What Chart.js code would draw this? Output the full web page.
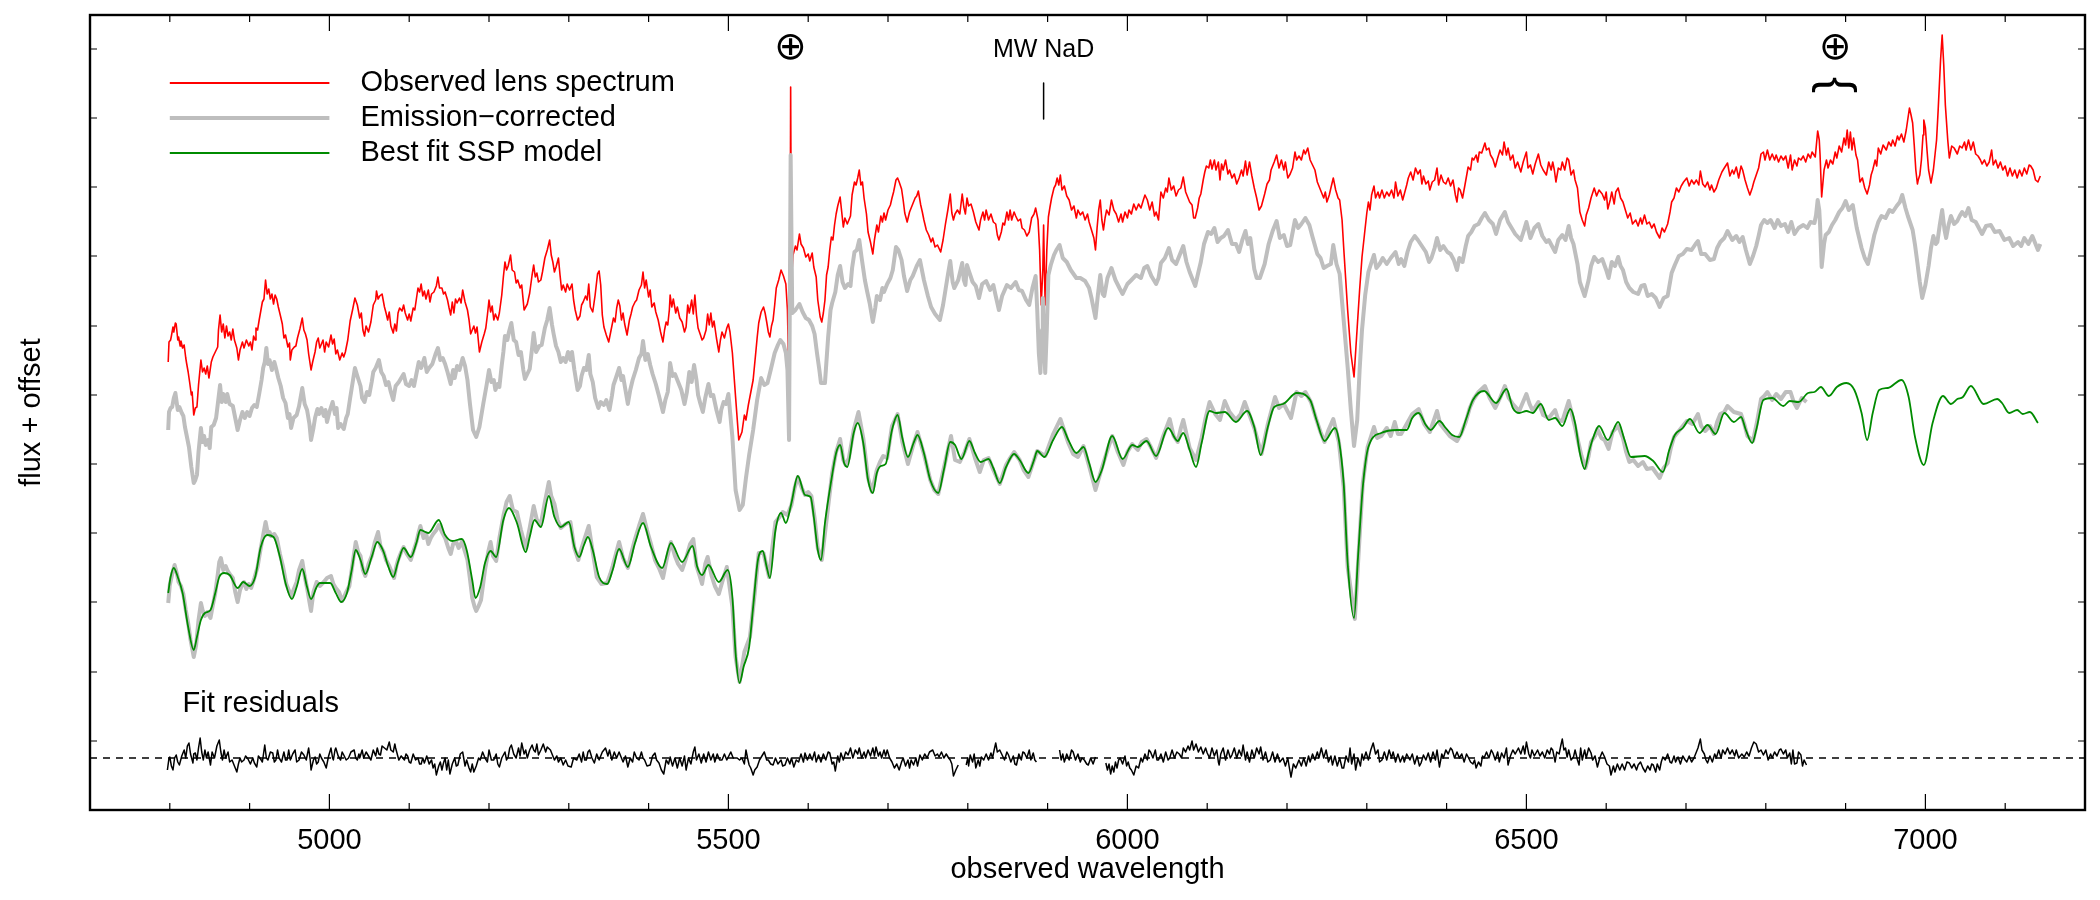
<!DOCTYPE html>
<html>
<head>
<meta charset="utf-8">
<script src="https://cdn.jsdelivr.net/npm/chart.js@4/dist/chart.umd.js"></script>
<style>body{margin:0;background:#fff}canvas{display:block}</style>
</head>
<body>
<canvas id="myChart" width="2100" height="900"></canvas>
<script>
// [wavelength, flux + offset], flux in arbitrary units
const observed = [[4798,448],[4799,468],[4801,470],[4802,474],[4804,483],[4805,478],[4807,487],[4808,486],[4810,470],[4811,473],[4813,464],[4814,469],[4816,462],[4818,465],[4820,452],[4821,447],[4823,438],[4825,427],[4827,415],[4828,418],[4830,395],[4832,402],[4834,403],[4836,425],[4839,450],[4841,438],[4843,442],[4845,436],[4847,444],[4849,432],[4850,437],[4852,448],[4854,453],[4857,458],[4860,463],[4861,480],[4863,495],[4865,478],[4867,486],[4869,472],[4871,484],[4873,474],[4875,478],[4877,470],[4879,481],[4881,470],[4884,462],[4886,450],[4888,460],[4891,468],[4893,462],[4896,470],[4899,464],[4901,468],[4903,460],[4905,474],[4907,470],[4908,482],[4910,480],[4912,490],[4914,499],[4916,508],[4918,511],[4920,530],[4922,516],[4924,521],[4926,511],[4928,516],[4930,506],[4932,515],[4934,511],[4936,503],[4939,493],[4941,486],[4943,472],[4945,475],[4948,463],[4950,467],[4951,450],[4953,460],[4956,463],[4958,464],[4960,472],[4963,481],[4966,492],[4968,480],[4970,476],[4972,470],[4974,456],[4977,440],[4979,448],[4982,458],[4984,468],[4986,472],[4988,462],[4990,466],[4992,470],[4994,458],[4996,468],[4999,463],[5002,475],[5004,466],[5006,471],[5008,456],[5010,460],[5013,450],[5016,457],[5018,453],[5020,458],[5023,470],[5026,489],[5029,500],[5032,512],[5035,505],[5038,492],[5040,497],[5042,480],[5044,474],[5046,484],[5049,478],[5052,488],[5055,505],[5058,510],[5059,519],[5061,511],[5063,514],[5066,516],[5069,503],[5071,497],[5073,490],[5075,498],[5077,484],[5080,477],[5082,486],[5084,479],[5086,497],[5088,502],[5091,499],[5093,505],[5095,497],[5098,490],[5100,496],[5102,489],[5105,502],[5107,500],[5109,511],[5111,522],[5113,518],[5115,526],[5117,514],[5119,519],[5121,511],[5124,520],[5126,508],[5128,516],[5131,518],[5134,524],[5136,533],[5138,522],[5141,522],[5143,516],[5145,518],[5148,510],[5150,502],[5152,495],[5154,508],[5156,497],[5158,511],[5160,507],[5163,512],[5165,507],[5167,520],[5170,508],[5173,500],[5175,490],[5177,476],[5179,480],[5181,484],[5183,477],[5185,483],[5188,458],[5191,468],[5194,476],[5196,482],[5198,495],[5200,510],[5202,498],[5204,504],[5206,490],[5208,496],[5211,490],[5213,497],[5216,515],[5218,533],[5220,548],[5222,540],[5224,544],[5227,555],[5229,540],[5232,538],[5234,527],[5236,530],[5239,522],[5241,525],[5244,500],[5246,503],[5248,506],[5251,517],[5254,535],[5256,545],[5258,533],[5260,537],[5262,528],[5265,530],[5267,538],[5270,552],[5273,560],[5276,570],[5278,555],[5280,548],[5282,538],[5284,543],[5287,552],[5289,535],[5291,520],[5293,525],[5296,518],[5298,526],[5301,520],[5304,526],[5306,510],[5308,500],[5311,490],[5314,494],[5316,505],[5318,508],[5321,514],[5323,510],[5325,526],[5327,503],[5330,498],[5333,515],[5336,536],[5338,539],[5340,525],[5342,495],[5344,483],[5347,475],[5350,468],[5353,480],[5356,492],[5358,488],[5360,502],[5362,510],[5364,504],[5366,490],[5368,497],[5370,486],[5373,475],[5376,490],[5378,496],[5380,503],[5383,508],[5385,510],[5388,520],[5391,525],[5393,538],[5395,522],[5397,530],[5400,513],[5402,520],[5404,503],[5407,507],[5409,498],[5412,490],[5415,478],[5418,468],[5420,480],[5422,488],[5424,485],[5426,500],[5427,515],[5429,503],[5431,511],[5434,497],[5436,503],[5439,492],[5442,488],[5445,478],[5447,483],[5449,505],[5451,497],[5454,510],[5456,496],[5458,515],[5460,495],[5462,482],[5465,475],[5467,470],[5469,472],[5472,480],[5474,496],[5476,485],[5478,497],[5480,483],[5482,489],[5485,472],[5488,458],[5490,470],[5492,478],[5495,472],[5498,482],[5500,486],[5502,478],[5505,457],[5509,413],[5513,370],[5517,378],[5520,395],[5522,390],[5525,405],[5531,430],[5534,455],[5536,472],[5538,487],[5541,498],[5544,503],[5546,497],[5548,488],[5550,478],[5552,473],[5554,484],[5556,490],[5558,505],[5560,522],[5563,530],[5566,540],[5569,534],[5572,526],[5574,500],[5575,460],[5577,440],[5578,723],[5579,530],[5581,555],[5584,564],[5586,560],[5589,576],[5591,566],[5594,562],[5597,553],[5600,556],[5602,549],[5605,557],[5607,543],[5610,533],[5612,510],[5615,493],[5617,488],[5619,497],[5621,510],[5623,535],[5625,543],[5627,560],[5629,573],[5631,570],[5633,585],[5635,596],[5637,604],[5640,613],[5642,598],[5644,583],[5646,592],[5649,586],[5651,590],[5653,594],[5655,615],[5658,628],[5660,625],[5662,632],[5664,640],[5666,625],[5668,628],[5670,612],[5673,596],[5675,578],[5678,568],[5681,556],[5683,570],[5686,585],[5688,578],[5691,594],[5693,588],[5695,597],[5697,590],[5700,600],[5703,605],[5705,612],[5707,618],[5710,630],[5712,632],[5714,628],[5717,621],[5719,610],[5721,597],[5724,588],[5727,598],[5729,602],[5731,606],[5734,612],[5736,614],[5738,619],[5741,605],[5743,598],[5745,590],[5748,580],[5751,575],[5754,568],[5756,572],[5759,563],[5762,565],[5766,558],[5769,570],[5772,586],[5775,600],[5778,616],[5780,597],[5782,590],[5784,596],[5787,600],[5790,596],[5793,616],[5795,603],[5797,596],[5799,612],[5801,604],[5804,606],[5807,598],[5810,588],[5814,580],[5816,590],[5819,598],[5821,590],[5823,600],[5826,590],[5829,596],[5832,588],[5835,586],[5837,575],[5839,570],[5842,578],[5844,587],[5846,585],[5849,598],[5851,590],[5853,600],[5855,590],[5858,598],[5860,594],[5863,589],[5866,591],[5868,582],[5871,580],[5874,574],[5877,578],[5880,592],[5883,596],[5885,602],[5888,590],[5890,560],[5892,505],[5894,540],[5895,585],[5896,540],[5897,505],[5899,560],[5901,593],[5903,603],[5905,612],[5908,622],[5910,625],[5912,632],[5914,625],[5916,635],[5918,620],[5921,624],[5924,614],[5927,610],[5930,600],[5933,604],[5936,592],[5938,600],[5941,595],[5944,598],[5947,590],[5950,596],[5952,588],[5955,580],[5958,572],[5960,560],[5962,582],[5964,600],[5966,610],[5968,590],[5970,580],[5972,592],[5974,600],[5977,595],[5980,610],[5983,600],[5986,596],[5989,588],[5992,596],[5994,588],[5997,598],[6000,592],[6002,600],[6005,596],[6008,606],[6011,600],[6014,606],[6017,602],[6020,610],[6022,615],[6025,610],[6028,600],[6031,608],[6034,594],[6036,598],[6039,590],[6042,618],[6045,612],[6048,622],[6050,618],[6052,632],[6055,620],[6058,624],[6061,614],[6064,620],[6067,622],[6070,633],[6073,618],[6076,612],[6078,608],[6081,605],[6083,592],[6085,592],[6088,602],[6090,612],[6092,616],[6095,630],[6097,638],[6099,644],[6102,642],[6104,650],[6106,641],[6109,650],[6111,640],[6114,648],[6116,630],[6118,646],[6120,640],[6123,650],[6126,636],[6128,640],[6131,632],[6134,636],[6137,626],[6140,632],[6143,640],[6145,634],[6148,649],[6150,635],[6153,648],[6156,634],[6159,622],[6162,612],[6165,600],[6168,604],[6172,616],[6175,626],[6178,630],[6180,640],[6182,644],[6184,648],[6187,655],[6190,642],[6193,650],[6196,640],[6198,648],[6201,632],[6204,636],[6207,642],[6210,658],[6212,650],[6215,654],[6218,650],[6221,660],[6223,656],[6226,662],[6229,650],[6232,645],[6235,640],[6238,628],[6241,622],[6243,618],[6246,612],[6248,618],[6250,608],[6253,615],[6255,622],[6258,632],[6261,620],[6264,612],[6266,610],[6269,590],[6271,563],[6276,500],[6280,457],[6284,433],[6288,483],[6291,520],[6294,553],[6297,575],[6300,597],[6302,608],[6304,600],[6306,615],[6309,624],[6311,612],[6314,618],[6316,612],[6319,620],[6322,612],[6325,618],[6328,614],[6331,620],[6334,612],[6336,628],[6339,614],[6342,620],[6345,610],[6347,616],[6350,625],[6352,632],[6355,638],[6358,630],[6361,642],[6364,636],[6367,640],[6369,626],[6371,634],[6374,626],[6377,629],[6379,620],[6382,628],[6385,630],[6388,642],[6390,625],[6393,635],[6396,628],[6399,626],[6402,632],[6405,624],[6408,630],[6411,615],[6413,608],[6415,622],[6417,620],[6420,612],[6423,625],[6427,643],[6430,640],[6432,652],[6434,650],[6437,655],[6439,648],[6441,658],[6444,657],[6448,667],[6450,660],[6453,662],[6455,655],[6458,651],[6461,643],[6464,652],[6467,660],[6470,655],[6472,668],[6475,655],[6477,662],[6480,650],[6483,655],[6486,642],[6489,648],[6493,638],[6496,648],[6500,658],[6502,642],[6505,645],[6508,636],[6511,646],[6515,656],[6518,645],[6521,640],[6525,635],[6528,648],[6531,640],[6533,648],[6535,640],[6537,628],[6540,642],[6543,640],[6545,648],[6548,640],[6551,652],[6553,650],[6556,635],[6559,640],[6561,630],[6564,622],[6567,598],[6570,590],[6573,584],[6575,595],[6578,602],[6581,612],[6585,622],[6588,614],[6591,620],[6595,616],[6598,610],[6600,618],[6602,601],[6605,610],[6607,618],[6610,606],[6612,618],[6615,622],[6618,612],[6621,608],[6624,600],[6627,592],[6630,597],[6633,586],[6637,590],[6640,584],[6643,592],[6645,586],[6648,595],[6651,586],[6654,588],[6657,582],[6660,586],[6663,578],[6667,572],[6670,582],[6673,578],[6677,586],[6680,598],[6682,608],[6685,612],[6688,622],[6691,618],[6694,624],[6697,628],[6701,632],[6704,624],[6707,630],[6710,626],[6713,630],[6716,625],[6718,639],[6721,626],[6724,623],[6727,628],[6730,620],[6732,625],[6735,618],[6738,622],[6741,630],[6745,638],[6748,642],[6752,647],[6755,634],[6758,640],[6760,636],[6763,643],[6766,632],[6769,644],[6771,640],[6774,630],[6777,622],[6780,615],[6783,622],[6785,628],[6788,635],[6791,642],[6794,656],[6797,658],[6799,650],[6802,660],[6805,650],[6808,656],[6811,650],[6813,655],[6816,648],[6819,654],[6822,650],[6825,654],[6828,642],[6831,655],[6833,640],[6836,650],[6839,644],[6841,652],[6844,650],[6847,654],[6850,648],[6853,656],[6856,652],[6858,658],[6862,653],[6865,679],[6867,670],[6868,655],[6870,613],[6873,640],[6876,650],[6878,642],[6881,650],[6884,646],[6887,658],[6889,652],[6892,664],[6895,658],[6898,672],[6900,665],[6902,680],[6904,662],[6906,678],[6908,660],[6910,672],[6913,655],[6915,650],[6918,628],[6921,632],[6924,622],[6927,616],[6930,625],[6932,635],[6934,640],[6937,650],[6939,644],[6941,662],[6944,656],[6947,665],[6951,660],[6954,668],[6957,664],[6959,670],[6962,664],[6965,674],[6967,670],[6970,676],[6973,668],[6976,680],[6980,702],[6982,695],[6984,687],[6986,665],[6988,640],[6990,626],[6991,630],[6993,635],[6995,650],[6997,675],[6998,690],[7000,682],[7002,660],[7004,640],[7007,627],[7010,640],[7012,655],[7014,670],[7016,700],[7019,750],[7021,775],[7023,745],[7025,705],[7028,670],[7030,652],[7033,664],[7036,662],[7040,656],[7043,664],[7046,662],[7049,668],[7051,660],[7054,670],[7057,660],[7060,668],[7063,656],[7066,654],[7069,650],[7071,646],[7074,650],[7077,644],[7080,648],[7083,660],[7085,645],[7088,650],[7091,642],[7094,648],[7097,640],[7100,644],[7103,634],[7106,642],[7109,634],[7112,640],[7115,632],[7118,640],[7121,634],[7124,642],[7127,636],[7130,645],[7132,644],[7135,640],[7138,630],[7141,628],[7144,634]];

const corrected = [[4798,380],[4799,398],[4801,402],[4803,403],[4805,412],[4807,417],[4810,400],[4812,403],[4815,397],[4817,394],[4819,383],[4821,375],[4824,363],[4827,343],[4830,327],[4832,330],[4834,335],[4836,358],[4839,382],[4841,368],[4843,374],[4845,365],[4848,370],[4850,362],[4852,383],[4855,385],[4858,392],[4860,405],[4863,425],[4865,408],[4867,416],[4870,408],[4872,416],[4875,406],[4879,404],[4882,392],[4885,380],[4888,390],[4891,398],[4894,392],[4897,398],[4900,394],[4903,402],[4906,405],[4909,403],[4912,416],[4915,430],[4917,442],[4919,448],[4921,462],[4923,446],[4925,450],[4928,440],[4931,448],[4933,442],[4936,432],[4939,424],[4942,412],[4945,407],[4948,392],[4950,396],[4952,382],[4955,392],[4959,395],[4962,404],[4966,422],[4969,406],[4972,400],[4975,386],[4977,370],[4980,382],[4982,392],[4985,401],[4987,396],[4990,402],[4993,394],[4995,400],[4997,388],[5000,398],[5004,408],[5007,396],[5009,402],[5011,382],[5014,386],[5018,381],[5021,392],[5023,396],[5026,412],[5028,422],[5030,432],[5032,442],[5035,434],[5039,424],[5041,412],[5044,408],[5047,418],[5050,415],[5053,428],[5055,438],[5058,442],[5062,450],[5065,438],[5068,434],[5071,425],[5074,428],[5077,418],[5080,410],[5083,424],[5087,428],[5090,432],[5093,436],[5096,426],[5100,424],[5103,430],[5106,424],[5109,436],[5112,448],[5115,442],[5119,452],[5122,438],[5125,442],[5129,446],[5133,456],[5136,462],[5139,450],[5142,452],[5145,446],[5148,438],[5150,432],[5152,426],[5155,440],[5157,432],[5160,444],[5163,440],[5167,452],[5170,444],[5173,430],[5176,407],[5180,380],[5184,373],[5188,383],[5193,407],[5197,425],[5200,440],[5203,428],[5206,430],[5208,420],[5211,426],[5213,423],[5216,445],[5218,458],[5220,474],[5223,470],[5225,478],[5228,487],[5231,470],[5234,468],[5237,455],[5240,458],[5243,440],[5245,431],[5248,436],[5251,441],[5254,462],[5256,477],[5259,458],[5263,464],[5266,465],[5270,482],[5273,490],[5276,502],[5279,485],[5281,476],[5284,464],[5287,458],[5290,448],[5293,452],[5296,448],[5299,458],[5302,450],[5304,458],[5307,440],[5311,420],[5314,424],[5316,434],[5319,442],[5322,440],[5325,455],[5327,436],[5330,428],[5333,412],[5337,402],[5340,408],[5344,405],[5347,410],[5351,400],[5354,414],[5356,425],[5359,432],[5363,442],[5366,430],[5368,434],[5371,420],[5374,406],[5377,420],[5380,430],[5384,440],[5388,452],[5391,456],[5393,469],[5396,450],[5399,456],[5402,445],[5405,436],[5409,426],[5413,414],[5418,398],[5421,410],[5424,418],[5426,436],[5427,447],[5430,434],[5433,436],[5437,428],[5441,420],[5445,406],[5448,418],[5451,438],[5454,428],[5457,445],[5460,430],[5462,415],[5465,406],[5468,398],[5471,412],[5475,426],[5478,414],[5481,415],[5485,400],[5489,388],[5491,400],[5494,408],[5497,406],[5500,416],[5505,373],[5509,320],[5514,300],[5518,305],[5522,332],[5526,355],[5531,380],[5536,410],[5541,432],[5545,425],[5549,427],[5553,440],[5558,457],[5562,465],[5565,470],[5569,466],[5572,457],[5574,440],[5576,370],[5578,655],[5580,497],[5584,500],[5589,506],[5593,498],[5597,492],[5601,490],[5605,484],[5608,476],[5611,457],[5614,440],[5616,427],[5621,427],[5625,473],[5628,500],[5630,507],[5634,518],[5637,535],[5640,544],[5643,528],[5646,522],[5650,526],[5653,524],[5655,542],[5658,558],[5661,560],[5664,570],[5667,552],[5671,530],[5674,518],[5677,507],[5681,488],[5684,502],[5686,514],[5690,510],[5693,522],[5695,518],[5699,526],[5703,532],[5706,540],[5710,563],[5713,560],[5717,550],[5720,534],[5724,519],[5728,530],[5731,534],[5736,544],[5740,550],[5743,538],[5745,530],[5750,514],[5754,503],[5759,496],[5765,490],[5769,505],[5772,520],[5775,535],[5778,549],[5781,528],[5783,522],[5788,530],[5793,547],[5795,530],[5797,525],[5799,545],[5801,540],[5806,528],[5810,524],[5814,512],[5818,526],[5823,529],[5828,520],[5832,525],[5835,514],[5839,500],[5843,514],[5849,525],[5854,522],[5860,528],[5864,520],[5868,519],[5873,510],[5877,505],[5881,522],[5885,534],[5887,500],[5889,457],[5891,437],[5893,480],[5894,512],[5895,480],[5897,437],[5899,480],[5901,535],[5904,545],[5908,555],[5911,560],[5915,565],[5919,552],[5924,548],[5929,540],[5936,532],[5941,532],[5947,529],[5952,522],[5955,512],[5960,492],[5963,515],[5966,535],[5969,516],[5971,514],[5975,532],[5980,542],[5985,530],[5990,522],[5994,516],[6000,526],[6005,530],[6011,535],[6017,532],[6021,542],[6025,544],[6030,534],[6036,526],[6039,532],[6042,547],[6047,552],[6052,562],[6056,550],[6061,546],[6066,556],[6070,564],[6074,548],[6078,538],[6082,530],[6085,524],[6089,538],[6092,548],[6096,566],[6101,578],[6105,576],[6109,582],[6113,568],[6117,572],[6121,574],[6126,580],[6131,566],[6136,566],[6140,558],[6144,570],[6148,579],[6151,566],[6154,572],[6159,541],[6162,532],[6166,532],[6172,546],[6177,566],[6182,579],[6187,589],[6191,572],[6196,575],[6200,564],[6204,565],[6210,590],[6214,582],[6218,586],[6223,592],[6228,585],[6232,573],[6238,556],[6242,552],[6246,542],[6250,544],[6255,546],[6258,565],[6262,546],[6266,536],[6271,490],[6276,443],[6280,400],[6284,364],[6288,390],[6291,440],[6294,480],[6298,515],[6302,538],[6306,548],[6309,555],[6312,542],[6316,546],[6320,552],[6325,546],[6330,552],[6336,558],[6340,546],[6343,551],[6347,544],[6351,558],[6355,568],[6360,574],[6364,570],[6369,564],[6374,558],[6378,548],[6381,552],[6385,562],[6388,572],[6392,560],[6396,564],[6401,558],[6405,556],[6409,550],[6413,540],[6416,552],[6420,548],[6424,564],[6427,574],[6431,578],[6435,584],[6440,586],[6444,592],[6448,597],[6453,590],[6458,586],[6462,576],[6467,590],[6473,598],[6477,588],[6480,584],[6486,576],[6493,570],[6497,580],[6500,588],[6505,572],[6510,582],[6515,586],[6520,574],[6525,568],[6528,570],[6532,564],[6536,558],[6540,570],[6545,575],[6549,570],[6553,584],[6556,572],[6559,566],[6564,546],[6567,528],[6573,514],[6578,530],[6581,544],[6585,553],[6590,548],[6595,551],[6600,540],[6603,532],[6607,548],[6611,544],[6615,553],[6618,544],[6621,540],[6625,528],[6629,522],[6634,518],[6640,516],[6644,524],[6648,525],[6652,514],[6657,516],[6662,512],[6667,503],[6672,512],[6677,514],[6682,537],[6686,545],[6691,554],[6696,556],[6701,561],[6707,560],[6712,566],[6715,569],[6719,556],[6724,556],[6730,550],[6735,551],[6739,562],[6743,568],[6748,572],[6752,579],[6758,570],[6763,574],[6767,568],[6771,573],[6775,560],[6780,546],[6784,554],[6788,564],[6791,574],[6794,585],[6798,590],[6802,587],[6806,590],[6811,582],[6815,590],[6819,584],[6824,586],[6828,578],[6832,588],[6836,576],[6841,582],[6847,585],[6852,582],[6856,588],[6861,587],[6863,595],[6865,610],[6867,600],[6868,585],[6870,543],[6873,566],[6875,575],[6879,578],[6883,585],[6887,590],[6892,598],[6896,602],[6900,609],[6904,600],[6909,605],[6914,582],[6920,562],[6924,552],[6928,546],[6932,560],[6936,575],[6941,588],[6945,594],[6950,592],[6955,600],[6959,598],[6964,604],[6968,608],[6971,615],[6975,602],[6978,594],[6984,580],[6987,565],[6990,547],[6993,528],[6996,512],[7000,525],[7004,544],[7007,562],[7010,574],[7013,566],[7015,568],[7018,585],[7021,600],[7024,580],[7026,572],[7029,585],[7032,594],[7036,586],[7040,589],[7043,594],[7046,598],[7050,594],[7054,602],[7058,590],[7063,588],[7067,582],[7071,576],[7076,584],[7082,585],[7087,578],[7093,579],[7099,570],[7105,572],[7110,564],[7116,568],[7120,564],[7124,572],[7129,566],[7134,574],[7138,566],[7141,560],[7144,566]];

const correctedLow = [[4798,207],[4800,225],[4803,236],[4806,245],[4809,236],[4811,228],[4814,224],[4817,216],[4820,200],[4823,187],[4826,170],[4830,153],[4833,165],[4836,190],[4839,207],[4841,200],[4844,194],[4847,198],[4851,192],[4854,205],[4857,217],[4860,235],[4862,248],[4864,252],[4867,240],[4870,244],[4872,240],[4875,236],[4879,232],[4882,218],[4885,208],[4888,220],[4890,224],[4893,228],[4896,221],[4899,226],[4902,222],[4906,232],[4910,243],[4914,262],[4917,275],[4920,288],[4923,276],[4925,278],[4927,274],[4931,276],[4934,272],[4938,256],[4942,243],[4946,226],[4950,218],[4952,214],[4955,220],[4959,228],[4962,240],[4966,249],[4969,234],[4972,222],[4975,208],[4977,199],[4980,218],[4984,228],[4988,224],[4993,228],[4997,232],[5002,234],[5005,226],[5008,222],[5012,218],[5016,209],[5020,216],[5025,224],[5029,246],[5033,268],[5036,258],[5039,254],[5042,240],[5045,234],[5049,246],[5053,254],[5057,268],[5061,278],[5064,264],[5068,258],[5071,250],[5075,244],[5078,238],[5081,232],[5084,244],[5086,250],[5090,258],[5093,263],[5097,256],[5102,250],[5105,258],[5109,268],[5112,278],[5114,284],[5118,272],[5121,277],[5124,266],[5127,272],[5130,276],[5134,280],[5137,285],[5141,278],[5145,272],[5149,262],[5152,256],[5155,266],[5159,268],[5162,262],[5166,268],[5170,258],[5173,250],[5176,232],[5179,212],[5182,203],[5184,199],[5187,204],[5190,210],[5193,228],[5195,240],[5199,258],[5202,268],[5205,254],[5209,249],[5213,272],[5218,294],[5222,308],[5226,314],[5230,300],[5235,298],[5240,280],[5246,262],[5251,282],[5256,304],[5260,290],[5265,286],[5270,308],[5275,328],[5278,314],[5282,306],[5286,290],[5290,282],[5296,286],[5302,288],[5307,262],[5312,250],[5316,262],[5320,272],[5325,284],[5330,258],[5335,233],[5341,226],[5348,227],[5352,236],[5355,244],[5359,256],[5363,268],[5368,252],[5374,242],[5378,256],[5383,271],[5388,284],[5393,296],[5398,280],[5403,266],[5408,250],[5413,242],[5418,232],[5423,252],[5428,268],[5433,254],[5437,246],[5442,240],[5447,252],[5452,266],[5456,271],[5460,244],[5464,234],[5467,226],[5471,246],[5474,253],[5479,234],[5483,224],[5488,216],[5493,230],[5498,243],[5505,203],[5509,153],[5514,128],[5520,158],[5527,173],[5533,217],[5538,257],[5544,257],[5551,233],[5555,262],[5559,288],[5564,293],[5568,298],[5574,295],[5579,305],[5583,322],[5587,333],[5592,322],[5596,315],[5600,318],[5604,314],[5608,292],[5612,262],[5617,250],[5623,290],[5630,337],[5635,358],[5640,371],[5644,350],[5647,345],[5651,352],[5657,380],[5663,398],[5669,372],[5675,332],[5680,318],[5686,340],[5690,348],[5694,354],[5699,352],[5705,384],[5712,396],[5718,368],[5725,346],[5732,366],[5737,378],[5745,356],[5753,330],[5758,320],[5763,316],[5770,342],[5779,374],[5784,350],[5790,348],[5796,358],[5802,371],[5809,352],[5815,338],[5820,350],[5826,352],[5832,340],[5840,326],[5848,345],[5853,352],[5858,358],[5865,350],[5870,340],[5876,333],[5883,350],[5887,359],[5897,354],[5907,376],[5916,391],[5926,367],[5932,356],[5938,353],[5945,364],[5952,344],[5960,320],[5968,342],[5975,360],[5981,374],[5988,358],[5995,345],[6000,358],[6006,366],[6013,360],[6018,368],[6024,371],[6030,362],[6036,352],[6044,372],[6053,391],[6058,374],[6063,368],[6067,382],[6070,390],[6078,362],[6086,350],[6093,372],[6098,392],[6103,408],[6110,396],[6116,390],[6122,409],[6128,398],[6136,390],[6142,396],[6147,408],[6153,395],[6159,382],[6168,356],[6176,386],[6185,413],[6190,402],[6196,406],[6205,392],[6212,418],[6218,414],[6223,418],[6230,408],[6237,390],[6242,378],[6247,368],[6252,380],[6258,391],[6265,368],[6271,323],[6276,243],[6285,191],[6290,260],[6295,327],[6301,363],[6309,383],[6313,372],[6318,374],[6325,382],[6330,374],[6335,388],[6339,376],[6343,376],[6350,386],[6357,396],[6365,401],[6372,386],[6379,378],[6388,399],[6392,386],[6396,382],[6404,374],[6413,369],[6418,376],[6424,388],[6429,402],[6434,411],[6440,418],[6448,424],[6454,412],[6461,402],[6467,412],[6473,424],[6478,412],[6483,406],[6491,399],[6500,416],[6504,406],[6508,399],[6515,408],[6521,395],[6528,392],[6536,400],[6540,390],[6545,389],[6553,409],[6557,396],[6561,383],[6565,368],[6569,354],[6574,342],[6578,354],[6581,368],[6586,374],[6589,381],[6594,372],[6598,370],[6603,361],[6608,378],[6615,384],[6621,372],[6625,358],[6629,348],[6634,350],[6640,344],[6646,348],[6651,341],[6658,342],[6667,332],[6672,342],[6677,347],[6681,362],[6685,373],[6692,380],[6701,389],[6708,386],[6715,396],[6719,384],[6724,379],[6730,384],[6735,376],[6739,388],[6743,396],[6748,398],[6752,404],[6760,398],[6769,396],[6773,386],[6777,374],[6784,369],[6789,388],[6794,411],[6798,414],[6802,418],[6808,410],[6813,416],[6819,411],[6825,418],[6831,418],[6835,408],[6839,402],[6845,412],[6851,408]];

const model = [[4798,217],[4801,233],[4805,242],[4810,233],[4816,217],[4823,183],[4830,160],[4834,173],[4839,190],[4844,197],[4851,200],[4857,217],[4862,233],[4868,237],[4875,235],[4885,222],[4892,228],[4900,224],[4907,233],[4914,263],[4922,275],[4930,273],[4938,253],[4945,227],[4953,211],[4959,223],[4966,241],[4972,223],[4977,211],[4984,223],[4988,227],[5001,227],[5008,217],[5015,208],[5022,217],[5028,240],[5033,260],[5039,250],[5045,236],[5053,253],[5060,268],[5067,260],[5074,243],[5080,233],[5086,248],[5093,262],[5102,253],[5109,267],[5114,280],[5124,277],[5137,290],[5145,275],[5154,269],[5166,271],[5172,260],[5179,230],[5183,212],[5189,223],[5195,247],[5202,259],[5209,253],[5218,290],[5225,302],[5235,287],[5246,258],[5251,273],[5257,290],[5265,283],[5275,314],[5282,293],[5290,283],[5300,288],[5307,263],[5313,253],[5319,265],[5324,273],[5330,260],[5338,233],[5348,226],[5355,240],[5363,261],[5374,243],[5383,267],[5393,287],[5403,263],[5417,242],[5428,267],[5442,248],[5455,264],[5461,243],[5467,235],[5475,245],[5488,228],[5499,240],[5505,213],[5509,157],[5514,127],[5519,143],[5526,163],[5531,203],[5537,250],[5543,259],[5548,243],[5552,232],[5559,280],[5566,297],[5572,287],[5579,307],[5587,334],[5596,315],[5603,313],[5607,293],[5612,260],[5616,250],[5621,287],[5629,330],[5635,357],[5640,365],[5645,347],[5649,343],[5657,377],[5662,387],[5669,367],[5675,330],[5681,317],[5686,337],[5691,344],[5697,346],[5705,380],[5712,395],[5718,372],[5725,353],[5732,367],[5737,375],[5745,357],[5753,330],[5763,317],[5770,340],[5778,368],[5784,365],[5792,351],[5802,369],[5809,357],[5816,348],[5826,351],[5832,342],[5840,327],[5848,343],[5858,356],[5865,350],[5876,337],[5883,350],[5887,359],[5896,353],[5907,370],[5918,383],[5926,370],[5936,357],[5945,363],[5952,347],[5960,328],[5968,340],[5981,374],[5994,351],[6006,365],[6013,363],[6024,369],[6036,354],[6051,382],[6063,369],[6070,377],[6078,360],[6086,343],[6093,367],[6103,399],[6111,397],[6122,398],[6136,388],[6150,399],[6159,383],[6167,355],[6176,383],[6184,403],[6195,406],[6212,417],[6229,410],[6237,390],[6247,369],[6260,382],[6265,370],[6271,327],[6276,247],[6284,192],[6289,253],[6295,323],[6302,363],[6318,377],[6338,380],[6350,380],[6357,392],[6365,397],[6374,385],[6380,380],[6391,389],[6399,382],[6407,375],[6416,373],[6424,390],[6433,410],[6447,419],[6462,407],[6475,421],[6483,402],[6491,397],[6500,399],[6508,397],[6518,406],[6528,390],[6536,392],[6545,384],[6555,401],[6561,387],[6567,357],[6573,341],[6578,357],[6584,373],[6591,384],[6602,370],[6615,388],[6623,370],[6631,353],[6648,354],[6659,349],[6671,338],[6679,360],[6686,375],[6696,382],[6705,391],[6717,377],[6727,385],[6737,376],[6748,397],[6760,388],[6769,393],[6775,380],[6783,367],[6788,380],[6797,410],[6808,412],[6822,404],[6830,409],[6841,408],[6853,417],[6861,418],[6869,423],[6879,414],[6889,423],[6901,427],[6911,420],[6920,397],[6927,370],[6934,397],[6942,420],[6953,422],[6970,430],[6979,413],[6987,373],[6998,345],[7009,387],[7022,414],[7032,406],[7040,411],[7047,413],[7057,424],[7073,406],[7090,411],[7096,407],[7105,397],[7115,400],[7122,396],[7131,398],[7141,387]];

const residuals = [[4797,40],[4799,52],[4800,53],[4802,44],[4804,40],[4806,52],[4808,55],[4810,48],[4812,45],[4815,54],[4818,60],[4820,52],[4822,64],[4824,67],[4826,56],[4829,47],[4830,56],[4832,57],[4834,50],[4836,62],[4838,72],[4840,58],[4842,50],[4844,60],[4846,52],[4848,58],[4851,45],[4853,58],[4856,52],[4859,64],[4862,70],[4864,58],[4866,50],[4868,60],[4870,52],[4873,58],[4875,48],[4878,50],[4881,44],[4884,38],[4886,46],[4888,52],[4890,48],[4893,50],[4895,54],[4898,51],[4901,46],[4904,52],[4906,47],[4909,43],[4911,54],[4913,52],[4916,48],[4919,65],[4921,52],[4923,50],[4926,58],[4929,57],[4931,48],[4933,50],[4935,60],[4937,52],[4940,48],[4943,58],[4945,50],[4947,50],[4949,60],[4951,50],[4954,56],[4957,60],[4959,48],[4962,50],[4965,58],[4968,55],[4971,50],[4974,62],[4976,50],[4977,40],[4980,50],[4982,53],[4984,46],[4986,48],[4988,56],[4990,52],[4993,48],[4996,42],[4999,54],[5002,62],[5004,52],[5005,50],[5007,60],[5008,62],[5011,54],[5014,50],[5016,58],[5018,55],[5021,50],[5024,52],[5027,58],[5031,60],[5033,52],[5035,50],[5037,56],[5038,52],[5041,60],[5043,52],[5046,58],[5049,54],[5052,50],[5055,60],[5058,54],[5060,62],[5062,56],[5064,55],[5066,64],[5069,62],[5072,60],[5075,68],[5077,60],[5080,58],[5082,66],[5083,62],[5085,56],[5087,50],[5090,54],[5094,50],[5096,56],[5098,54],[5100,48],[5102,47],[5105,56],[5108,50],[5111,52],[5113,46],[5115,46],[5117,52],[5119,47],[5122,54],[5125,46],[5128,50],[5130,42],[5132,46],[5134,35],[5137,44],[5139,48],[5141,40],[5143,47],[5145,52],[5147,40],[5149,50],[5151,36],[5154,46],[5157,52],[5159,44],[5161,45],[5164,56],[5167,58],[5170,44],[5172,50],[5175,42],[5177,38],[5179,46],[5181,38],[5184,44],[5187,52],[5189,50],[5192,58],[5195,52],[5198,48],[5200,60],[5203,50],[5206,50],[5209,56],[5211,46],[5213,43],[5216,52],[5220,58],[5222,50],[5224,53],[5226,62],[5228,65],[5231,56],[5234,52],[5237,62],[5239,54],[5241,67],[5244,56],[5246,60],[5248,52],[5251,60],[5254,65],[5256,60],[5258,58],[5260,66],[5262,55],[5265,60],[5268,66],[5271,58],[5273,63],[5277,60],[5280,54],[5282,50],[5285,54],[5287,48],[5290,52],[5293,45],[5296,50],[5299,44],[5303,43],[5306,52],[5310,50],[5313,56],[5316,48],[5318,58],[5320,50],[5322,50],[5324,58],[5326,60],[5329,52],[5332,47],[5335,56],[5338,50],[5342,58],[5346,62],[5349,54],[5351,60],[5354,50],[5357,58],[5360,52],[5363,58],[5366,52],[5368,48],[5371,54],[5374,43],[5377,52],[5380,48],[5382,58],[5385,52],[5388,50],[5391,58],[5393,52],[5395,50],[5398,44],[5402,45],[5405,54],[5408,57],[5410,50],[5413,47],[5416,40],[5419,36],[5422,50],[5425,46],[5427,53],[5430,44],[5433,52],[5436,42],[5439,52],[5442,44],[5445,54],[5447,40],[5450,52],[5453,46],[5456,58],[5458,63],[5460,50],[5463,56],[5466,47],[5469,56],[5472,48],[5475,58],[5478,50],[5481,56],[5483,48],[5486,56],[5489,50],[5492,50],[5495,56],[5498,50],[5503,58],[5506,52],[5511,52],[5514,50],[5517,52],[5520,46],[5522,60],[5524,52],[5526,45],[5528,42],[5531,35],[5533,40],[5536,43],[5539,50],[5542,54],[5545,58],[5548,50],[5550,50],[5553,46],[5556,45],[5559,52],[5562,46],[5566,50],[5568,44],[5571,45],[5574,52],[5577,46],[5579,52],[5582,43],[5585,50],[5588,48],[5591,56],[5594,48],[5596,57],[5599,50],[5602,56],[5605,50],[5608,58],[5610,48],[5613,55],[5616,48],[5619,56],[5622,50],[5625,58],[5627,57],[5630,46],[5632,48],[5634,39],[5637,54],[5639,48],[5641,57],[5644,50],[5647,58],[5650,55],[5653,62],[5656,52],[5659,60],[5662,56],[5664,62],[5667,52],[5670,58],[5672,52],[5675,60],[5678,54],[5681,62],[5683,54],[5685,63],[5688,54],[5690,58],[5692,52],[5695,60],[5697,54],[5699,60],[5702,52],[5705,48],[5708,42],[5711,46],[5714,40],[5717,48],[5719,52],[5722,44],[5725,50],[5727,42],[5729,50],[5732,45],[5735,52],[5737,44],[5740,55],[5743,50],[5746,56],[5749,52],[5752,58],[5756,60],[5759,54],[5762,56],[5764,53],[5767,58],[5770,52],[5773,56],[5776,52],[5778,50],[5780,46],[5782,34],[5785,40],[5788,45],[5790,null],[5798,45],[5800,52],[5801,44],[5803,55],[5806,48],[5808,56],[5810,42],[5813,50],[5815,44],[5817,53],[5820,50],[5823,56],[5826,50],[5829,57],[5831,52],[5833,60],[5835,67],[5837,58],[5840,60],[5843,55],[5846,50],[5849,58],[5851,55],[5854,48],[5857,54],[5859,46],[5861,45],[5864,56],[5867,50],[5869,58],[5871,57],[5874,52],[5877,60],[5879,50],[5882,57],[5884,50],[5886,48],[5900,null],[5915,60],[5917,50],[5919,56],[5921,48],[5924,56],[5927,50],[5930,60],[5932,58],[5935,50],[5938,56],[5941,48],[5943,52],[5946,50],[5949,46],[5951,45],[5954,52],[5957,46],[5960,53],[5966,null],[5973,47],[5975,40],[5977,46],[5979,36],[5981,44],[5983,38],[5985,48],[5987,42],[5989,50],[5991,52],[5994,46],[5997,54],[5999,44],[6001,48],[6003,42],[6005,40],[6008,35],[6011,44],[6014,42],[6017,52],[6019,48],[6022,56],[6025,50],[6027,60],[6029,58],[6032,52],[6035,60],[6037,50],[6039,50],[6042,56],[6045,48],[6048,58],[6051,50],[6053,52],[6056,60],[6059,52],[6062,58],[6065,56],[6068,52],[6070,62],[6073,58],[6076,64],[6078,60],[6081,69],[6083,60],[6086,66],[6089,58],[6092,63],[6095,56],[6098,62],[6100,57],[6103,52],[6106,62],[6109,54],[6112,60],[6114,48],[6115,45],[6117,56],[6120,62],[6123,50],[6126,60],[6129,52],[6131,55],[6134,62],[6137,52],[6140,60],[6143,54],[6145,65],[6148,50],[6150,58],[6153,48],[6156,60],[6159,52],[6162,62],[6165,56],[6167,63],[6170,50],[6173,58],[6176,48],[6179,50],[6182,58],[6185,48],[6188,56],[6191,48],[6195,52],[6198,44],[6201,52],[6203,42],[6205,33],[6208,46],[6211,42],[6215,50],[6218,44],[6221,52],[6224,44],[6227,54],[6229,48],[6232,56],[6235,50],[6238,58],[6240,52],[6243,62],[6246,52],[6249,60],[6252,48],[6255,54],[6257,45],[6260,54],[6263,44],[6266,52],[6269,42],[6271,42],[6274,54],[6277,48],[6279,62],[6281,46],[6284,56],[6286,40],[6289,52],[6292,44],[6294,56],[6296,50],[6299,58],[6302,50],[6305,60],[6308,67],[6311,56],[6314,60],[6316,48],[6319,50],[6322,58],[6325,50],[6328,60],[6331,52],[6333,58],[6336,48],[6339,56],[6342,48],[6345,54],[6347,48],[6350,56],[6354,50],[6357,56],[6360,46],[6363,54],[6366,44],[6368,47],[6371,55],[6374,50],[6377,57],[6380,48],[6383,58],[6386,50],[6388,60],[6391,43],[6394,56],[6396,52],[6399,60],[6402,56],[6405,62],[6407,60],[6410,52],[6413,58],[6416,52],[6419,56],[6422,48],[6425,56],[6427,53],[6430,48],[6433,46],[6435,50],[6437,42],[6440,48],[6443,44],[6445,54],[6447,52],[6450,58],[6453,52],[6456,60],[6458,57],[6461,50],[6464,58],[6466,48],[6469,57],[6472,52],[6475,62],[6477,45],[6480,54],[6483,60],[6486,56],[6490,62],[6493,56],[6496,64],[6498,56],[6500,68],[6503,56],[6505,52],[6507,60],[6510,54],[6514,60],[6517,54],[6520,58],[6523,52],[6526,60],[6529,56],[6531,62],[6533,60],[6536,48],[6538,58],[6541,56],[6543,64],[6545,71],[6547,60],[6549,62],[6551,53],[6553,60],[6556,50],[6559,53],[6561,60],[6564,50],[6566,45],[6568,62],[6570,50],[6573,60],[6575,52],[6578,62],[6581,57],[6583,50],[6586,54],[6589,43],[6592,52],[6595,58],[6598,53],[6601,46],[6604,44],[6606,35],[6609,44],[6611,38],[6614,46],[6617,40],[6620,46],[6623,40],[6626,48],[6629,47],[6632,42],[6635,46],[6638,40],[6640,45],[6643,48],[6646,42],[6649,38],[6652,44],[6655,40],[6657,46],[6659,45],[6662,38],[6664,46],[6667,40],[6669,48],[6671,53],[6674,50],[6677,56],[6680,48],[6682,47],[6685,54],[6687,48],[6690,53],[6693,46],[6696,54],[6699,50],[6701,48],[6704,54],[6707,48],[6710,52],[6713,58],[6715,62],[6718,71],[6720,60],[6723,56],[6725,50],[6727,47],[6730,54],[6733,48],[6736,56],[6738,52],[6741,60],[6744,52],[6746,60],[6749,56],[6752,62],[6755,56],[6758,60],[6761,54],[6763,60],[6766,52],[6770,56],[6773,53],[6776,58],[6779,54],[6782,62],[6785,68],[6788,66],[6791,58],[6794,60],[6797,55],[6800,60],[6803,50],[6806,56],[6808,52],[6811,58],[6814,54],[6817,60],[6819,61],[6822,56],[6825,60],[6827,52],[6830,57],[6832,46],[6834,60],[6836,46],[6839,47],[6841,58],[6844,55],[6846,44],[6848,50],[6851,45]];

const zeroLine = [[4700,52],[7200,52]];
const nadMark = [[5895,727],[5895,691]];

const xMajor = 500;
const yTicks = [69,138,208,277,346,415,484,554,623,692,761];
const legendLabels = ["Observed lens spectrum", "Emission\u2212corrected", "Best fit SSP model"];

// text put on the plot, at data coordinates
const notes = [
    { text: "\u2295", x: 5578, y: 761, font: '39px "DejaVu Sans"', align: "center" },
    { text: "\u2295", x: 6887, y: 761, font: '39px "DejaVu Sans"', align: "center" },
    { text: "MW NaD", x: 5895, y: 760, font: '25px "Liberation Sans"', align: "center" },
    { text: "Fit residuals", x: 4816, y: 106, font: '29px "Liberation Sans"', align: "left" },
];

const RED = "#ff0000";
const GRAY = "#bebebe";
const GREEN = "#008b00";

function series(data, color, width, order, extra) {
    return Object.assign({
        data: data,
        borderColor: color,
        borderWidth: width,
        pointRadius: 0,
        tension: 0,
        borderJoinStyle: "round",
        order: order,
    }, extra);
}

// frame, inward ticks, hand made legend and the small labels
const frame = {
    id: "frame",
    afterDatasetsDraw(chart) {
        const { ctx, chartArea: a, scales: { x, y } } = chart;
        ctx.save();
        ctx.strokeStyle = "#000";
        ctx.fillStyle = "#000";
        ctx.lineWidth = 1.2;
        ctx.beginPath();
        x.ticks.forEach((t) => {
            const px = x.getPixelForValue(t.value);
            const len = t.value % xMajor === 0 ? 16 : 7;
            ctx.moveTo(px, a.bottom);
            ctx.lineTo(px, a.bottom - len);
            ctx.moveTo(px, a.top);
            ctx.lineTo(px, a.top + len);
        });
        yTicks.forEach((v) => {
            const py = y.getPixelForValue(v);
            ctx.moveTo(a.left, py);
            ctx.lineTo(a.left + 7, py);
            ctx.moveTo(a.right, py);
            ctx.lineTo(a.right - 7, py);
        });
        ctx.stroke();
        ctx.lineWidth = 2.4;
        ctx.strokeRect(a.left, a.top, a.right - a.left, a.bottom - a.top);

        // legend rows
        const rows = [[RED, 2], [GRAY, 4], [GREEN, 2]];
        rows.forEach(([color, w], i) => {
            const py = y.getPixelForValue(727 - i * 35);
            ctx.strokeStyle = color;
            ctx.lineWidth = w;
            ctx.beginPath();
            ctx.moveTo(x.getPixelForValue(4800), py);
            ctx.lineTo(x.getPixelForValue(5000), py);
            ctx.stroke();
            ctx.font = '29px "Liberation Sans"';
            ctx.textAlign = "left";
            ctx.textBaseline = "middle";
            ctx.fillText(legendLabels[i], x.getPixelForValue(5039), py);
        });

        notes.forEach((n) => {
            ctx.font = n.font;
            ctx.textAlign = n.align;
            ctx.textBaseline = "middle";
            ctx.fillText(n.text, x.getPixelForValue(n.x), y.getPixelForValue(n.y));
        });

        // telluric bracket
        ctx.translate(x.getPixelForValue(6887), y.getPixelForValue(725));
        ctx.rotate(Math.PI / 2);
        ctx.font = '48px "Liberation Sans"';
        ctx.textAlign = "center";
        ctx.fillText("{", 0, 0);
        ctx.restore();
    },
};

const config = {
    type: "line",
    data: {
        datasets: [
            series(zeroLine, "#000", 1.5, 7, { borderDash: [7, 6] }),
            series(observed, RED, 1.6, 6),
            series(corrected, GRAY, 4, 5),
            series(correctedLow, GRAY, 4, 4),
            series(model, GREEN, 1.8, 3, { cubicInterpolationMode: "monotone" }),
            series(residuals, "#000", 1.5, 2, { spanGaps: false }),
            series(nadMark, "#000", 1.5, 1),
        ],
    },
    options: {
        responsive: false,
        animation: false,
        layout: { padding: { top: 15, right: 15, left: 0, bottom: 0 } },
        plugins: { legend: { display: false }, tooltip: { enabled: false } },
        scales: {
            x: {
                type: "linear",
                min: 4700,
                max: 7200,
                grid: { display: false },
                border: { display: false },
                ticks: {
                    stepSize: 100,
                    autoSkip: false,
                    maxRotation: 0,
                    padding: 6,
                    color: "#000",
                    font: { family: "Liberation Sans", size: 29 },
                    callback: (v) => (v % xMajor === 0 ? String(v) : ""),
                },
                title: {
                    display: true,
                    text: "observed wavelength",
                    color: "#000",
                    font: { family: "Liberation Sans", size: 29 },
                    padding: { top: 0, bottom: 13 },
                },
                afterFit(scale) { scale.height = 90; },
            },
            y: {
                min: 0,
                max: 795,
                grid: { display: false },
                border: { display: false },
                ticks: { display: false },
                title: {
                    display: true,
                    text: "flux + offset",
                    color: "#000",
                    font: { family: "Liberation Sans", size: 29 },
                    padding: { top: 15, bottom: 0 },
                },
                afterFit(scale) { scale.width = 90; },
            },
        },
    },
    plugins: [frame],
};

const myChart = new Chart(document.getElementById("myChart"), config);
</script>
</body>
</html>
